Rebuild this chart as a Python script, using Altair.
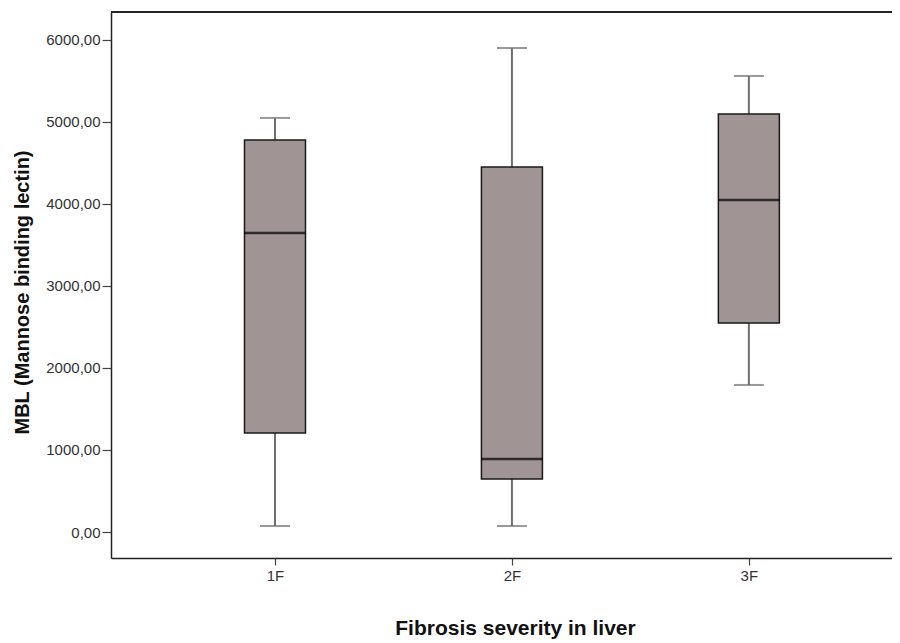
import altair as alt
import pandas as pd

groups = ["1F", "2F", "3F"]
positions = [1, 2, 3]
whisker_low = [73, 73, 1793]
q1 = [1207, 646, 2549]
median = [3646, 890, 4049]
q3 = [4780, 4451, 5098]
whisker_high = [5049, 5902, 5561]
y_ticks = [0, 1000, 2000, 3000, 4000, 5000, 6000]

df = pd.DataFrame({
    "group": groups, "pos": positions, "lo": whisker_low, "q1": q1,
    "med": median, "q3": q3, "hi": whisker_high,
})

W, H = 781, 546
FONT = "Liberation Sans"

xscale = alt.Scale(domain=[0.329, 3.583], nice=False, zero=False)
yscale = alt.Scale(domain=[-317, 6341], nice=False, zero=False)

x_axis = alt.Axis(
    values=positions, labelExpr="datum.value + 'F'", title="Fibrosis severity in liver",
    grid=False, domainColor="#222", domainWidth=1.5, tickColor="#444", tickSize=7,
    tickWidth=1.2, labelFont=FONT, labelFontSize=15, labelColor="#333", labelPadding=3,
    titleFont=FONT, titleFontSize=21, titleFontWeight="bold", titleColor="#111",
    titleX=404, titleY=70, titleBaseline="middle", titleAlign="center",
)
y_axis = alt.Axis(
    values=y_ticks, labelExpr="replace(format(datum.value, '.2f'), '.', ',')",
    title="MBL (Mannose binding lectin)", grid=False, domainColor="#222", domainWidth=1.5,
    tickColor="#444", tickSize=9, tickWidth=1.2, labelFont=FONT, labelFontSize=15,
    labelColor="#333", labelPadding=2, titleFont=FONT, titleFontSize=20,
    titleFontWeight="bold", titleColor="#111", titleX=-89, titleY=280,
    titleBaseline="middle", titleAlign="center",
)

base = alt.Chart(df)
X = alt.X("pos:Q", scale=xscale, axis=x_axis)
Xn = alt.X("pos:Q", scale=xscale)

whisk_lo = base.mark_rule(color="#6e6e6e", strokeWidth=2).encode(
    x=X, y=alt.Y("lo:Q", scale=yscale, axis=y_axis), y2="q1:Q")
whisk_hi = base.mark_rule(color="#6e6e6e", strokeWidth=2).encode(
    x=Xn, y=alt.Y("q3:Q", scale=yscale), y2="hi:Q")
cap_lo = base.mark_tick(orient="horizontal", size=30, thickness=2, color="#6e6e6e").encode(
    x=Xn, y=alt.Y("lo:Q", scale=yscale))
cap_hi = base.mark_tick(orient="horizontal", size=30, thickness=2, color="#6e6e6e").encode(
    x=Xn, y=alt.Y("hi:Q", scale=yscale))
box = base.mark_bar(orient="vertical", size=61, fill="#a09495", stroke="#1a1a1a",
                    strokeWidth=1.5).encode(
    x=Xn, y=alt.Y("q1:Q", scale=yscale), y2="q3:Q")
med = base.mark_tick(orient="horizontal", size=61, thickness=2.5, color="#000").encode(
    x=Xn, y=alt.Y("med:Q", scale=yscale))
top_border = alt.Chart(df).mark_rule(color="#222", strokeWidth=1.5).encode(
    x=alt.value(0), x2=alt.value(W), y=alt.value(0))

chart = alt.layer(whisk_lo, whisk_hi, cap_lo, cap_hi, box, med, top_border).properties(
    width=W, height=H,
    autosize=alt.AutoSizeParams(type="none"),
    padding={"left": 103, "top": 4, "right": 0, "bottom": 84},
).configure_view(stroke=None).configure(background="white")

chart.save("out.html", embed_options={"renderer": "svg", "actions": False})
